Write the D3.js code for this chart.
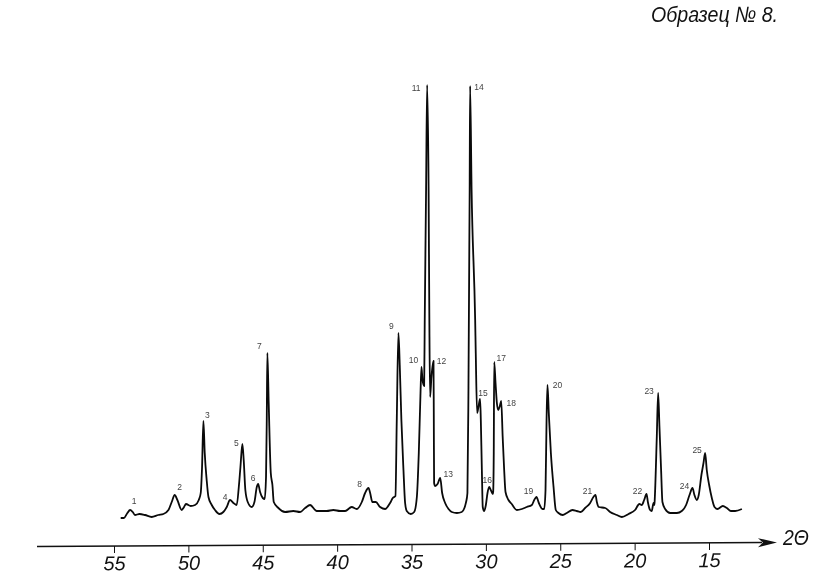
<!DOCTYPE html>
<html>
<head>
<meta charset="utf-8">
<script src="https://cdn.jsdelivr.net/npm/d3@7"></script>
<style>
  html, body { margin: 0; padding: 0; background: #fff; }
  svg { display: block; }
  .hand { font-family: "Liberation Sans", sans-serif; font-style: italic; fill: #111; }
  .peak { font-family: "Liberation Sans", sans-serif; font-size: 8.5px; fill: #444; text-anchor: middle; }
</style>
</head>
<body>
<div id="chart"></div>
<script>
const titleText = 'Образец № 8.';
const axisLabel = '2Θ';
const tickValues = [55, 50, 45, 40, 35, 30, 25, 20, 15];

// trace, 2theta and height above the axis
const theta = [
  54.55, 54.33, 54.10, 53.92, 53.74, 53.59, 53.29, 52.91, 52.47, 52.02, 51.68, 51.34, 51.12, 50.92, 50.74, 50.45,
  50.29, 50.16, 49.84, 49.55, 49.30, 49.17, 49.08, 48.99, 48.90, 48.77, 48.65, 48.43, 48.21, 47.91, 47.65, 47.42,
  47.20, 46.97, 46.75, 46.61, 46.50, 46.37, 46.28, 46.17, 46.01, 45.74, 45.56, 45.40, 45.31, 45.18, 45.00, 44.87,
  44.78, 44.73, 44.69, 44.60, 44.46, 44.35, 44.26, 43.95, 43.50, 42.94, 42.49, 42.15, 41.82, 41.37, 40.70, 40.25,
  39.80, 39.46, 39.02, 38.68, 38.34, 38.12, 37.89, 37.78, 37.63, 37.40, 37.11, 36.77, 36.44, 36.26, 36.08, 35.99,
  35.88, 35.79, 35.68, 35.54, 35.43, 35.32, 35.05, 34.82, 34.64, 34.51, 34.40, 34.33, 34.26, 34.15, 34.11, 34.02,
  33.95, 33.85, 33.80, 33.75, 33.66, 33.52, 33.50, 33.48, 33.41, 33.25, 33.07, 32.94, 32.74, 32.51, 32.29, 31.95,
  31.62, 31.33, 31.24, 31.17, 31.09, 31.06, 30.96, 30.72, 30.68, 30.59, 30.50, 30.39, 30.34, 30.27, 30.21, 30.12,
  30.00, 29.89, 29.78, 29.67, 29.53, 29.51, 29.47, 29.44, 29.35, 29.26, 29.17, 29.06, 28.97, 28.87, 28.77, 28.68,
  28.48, 28.26, 27.92, 27.58, 27.25, 26.91, 26.75, 26.60, 26.44, 26.19, 26.08, 25.99, 25.92, 25.86, 25.77, 25.63,
  25.45, 25.30, 25.12, 24.83, 24.56, 24.18, 23.89, 23.62, 23.33, 22.99, 22.77, 22.63, 22.54, 22.41, 21.98, 21.65,
  21.20, 20.86, 20.41, 19.97, 19.68, 19.52, 19.36, 19.20, 19.11, 18.96, 18.85, 18.73, 18.67, 18.64, 18.51, 18.42,
  18.33, 18.22, 18.13, 17.95, 17.61, 17.16, 16.83, 16.54, 16.31, 16.11, 15.98, 15.82, 15.69, 15.51, 15.37, 15.26,
  15.15, 14.99, 14.81, 14.63, 14.43, 14.07, 13.80, 13.53, 13.24, 12.79
];
const intensity = [
  28, 28, 33, 36, 34, 31, 32, 31, 29, 31, 32, 36, 44, 51, 46, 36,
  39, 42, 40, 41, 46, 53, 79, 125, 93, 66, 49, 41, 36, 32, 34, 39,
  46, 43, 41, 59, 79, 102, 86, 56, 44, 39, 44, 59, 62, 54, 48, 47,
  69, 126, 193, 143, 73, 61, 44, 38, 34, 35, 34, 38, 41, 35, 35, 36,
  35, 35, 39, 37, 44, 53, 58, 53, 44, 44, 39, 37, 43, 48, 50, 126,
  213, 181, 126, 76, 43, 35, 32, 34, 49, 93, 150, 179, 166, 160, 226, 356,
  461, 356, 226, 149, 169, 185, 126, 63, 60, 62, 68, 53, 43, 37, 34, 33,
  34, 44, 53, 159, 356, 460, 356, 226, 193, 133, 139, 147, 126, 76, 39, 35,
  41, 53, 59, 56, 52, 54, 93, 184, 163, 143, 136, 140, 145, 109, 76, 54,
  46, 42, 36, 37, 39, 41, 46, 49, 43, 37, 37, 56, 126, 161, 133, 93,
  59, 36, 33, 31, 33, 36, 35, 34, 38, 43, 49, 51, 44, 39, 38, 34,
  31, 29, 32, 36, 42, 41, 46, 52, 44, 36, 35, 43, 41, 49, 109, 153,
  119, 76, 44, 37, 33, 33, 35, 41, 51, 58, 51, 46, 51, 71, 83, 93,
  76, 61, 48, 39, 37, 40, 38, 35, 35, 37
];

const peakNumbers = d3.range(1, 26);
const peakTheta = [53.92, 50.92, 48.99, 47.20, 46.37, 45.31, 44.69, 37.89, 35.88, 34.33, 33.95, 33.52, 33.07,
  31.06, 30.39, 29.78, 29.44, 28.97, 26.60, 25.86, 22.63, 19.20, 18.42, 16.11, 15.26];
const peakHeight = [36, 51, 125, 46, 102, 62, 193, 58, 213, 179, 461, 185, 68,
  460, 147, 59, 184, 145, 49, 161, 51, 52, 153, 58, 93];

const width = 820, height = 588;

// label offsets from their peak, px
const labelDx = [4, 5, 4, -5, -6, -5, -8, -9, -7, -8, -11, 8, 8, 9, 3, -2, 7, 10, -8, 10, -8, -9, -9, -8, -8];
const labelDy = [-9, -8, -6, -3, -1, -6, -7, -4, -7, -7, 3, 0, -4, 1, -6, -7, -4, 2, -6, 0, -4, -3, -2, -2, -3];

const xScale = d3.scaleLinear().domain([55, 15]).range([114, 709]);
const yScale = d3.scaleLinear().domain([0, 500]).range([546, 46]);

// grayscale filter keeps the small numbers free of colour fringes
const svg = d3.select('#chart').append('svg')
  .attr('width', width)
  .attr('height', height)
  .style('background', '#fff')
  .style('filter', 'grayscale(1)');

const lineGenerator = d3.line()
  .x(i => xScale(theta[i]))
  .y(i => yScale(intensity[i]))
  .curve(d3.curveMonotoneX);

svg.append('path')
  .attr('d', lineGenerator(d3.range(theta.length)))
  .attr('fill', 'none')
  .attr('stroke', '#0a0a0a')
  .attr('stroke-width', 1.8)
  .attr('stroke-linejoin', 'round');

svg.append('g').selectAll('text')
  .data(peakNumbers)
  .enter()
    .append('text')
    .attr('class', 'peak')
    .attr('x', (d, i) => xScale(peakTheta[i]) + labelDx[i])
    .attr('y', (d, i) => yScale(peakHeight[i]) + labelDy[i] + 3)
    .text(d => d);

// hand drawn axis runs a little uphill
const axisG = svg.append('g')
  .attr('transform', 'translate(0,546) rotate(-0.3 114 0)');

axisG.call(d3.axisBottom(xScale).tickValues(tickValues).tickSize(7).tickSizeOuter(0).tickFormat(d3.format('d')));
axisG.select('.domain').remove();
axisG.selectAll('.tick line').attr('stroke', '#111').attr('stroke-width', 1);
axisG.selectAll('.tick text')
  .attr('class', 'hand')
  .attr('y', 10)
  .attr('font-size', 20)
  .style('font-family', '"Liberation Sans Narrow", "Liberation Sans", sans-serif');

axisG.append('line')
  .attr('x1', 37).attr('x2', 762)
  .attr('y1', 0).attr('y2', 0)
  .attr('stroke', '#111')
  .attr('stroke-width', 1.5);

axisG.append('path')
  .attr('d', d3.line()([[758, -4.5], [777, 0], [758, 4.5], [763, 0]]) + 'Z')
  .attr('fill', '#111');

svg.append('text')
  .attr('class', 'hand')
  .attr('x', 783)
  .attr('y', 545)
  .attr('font-size', 22)
  .attr('textLength', 26)
  .attr('lengthAdjust', 'spacingAndGlyphs')
  .text(axisLabel);

svg.append('text')
  .attr('class', 'hand')
  .attr('x', 651)
  .attr('y', 22)
  .attr('font-size', 22)
  .attr('textLength', 127)
  .attr('lengthAdjust', 'spacingAndGlyphs')
  .text(titleText);
</script>
</body>
</html>
